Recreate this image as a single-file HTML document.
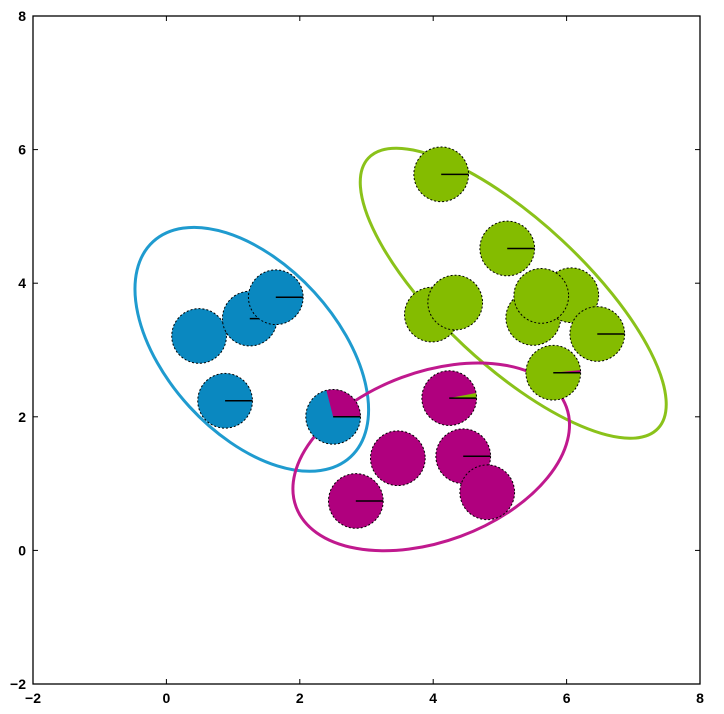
<!DOCTYPE html>
<html><head><meta charset="utf-8"><style>
html,body{margin:0;padding:0;background:#fff;}
svg text{font-family:"Liberation Sans",sans-serif;font-weight:bold;font-size:14px;fill:#000;}
</style></head><body>
<svg id="chart" width="724" height="709" viewBox="0 0 724 709" xmlns="http://www.w3.org/2000/svg">
<g id="ellipses"></g>
<g id="pies"></g>
<g id="axes"></g>
</svg>
<script>
// data
const clusterNames = ["blue", "green", "magenta"];
const clusterColors = ["#0a88c0", "#84bc00", "#b0007e"];
const ellipseColors = ["#1f9bcf", "#8ac21a", "#c0198e"];
const ellipseCx = [1.28, 5.2, 3.97];
const ellipseCy = [3.01, 3.85, 1.40];
const ellipseA = [2.19, 2.97, 2.16];
const ellipseB = [1.27, 1.08, 1.27];
const ellipseAngle = [47.5, 43, -20.3];
const pointX = [0.49, 1.25, 1.64, 0.88, 2.50, 4.12, 5.11, 3.98, 4.33, 5.50, 6.07, 5.62, 6.46, 5.80, 4.24, 4.45, 4.81, 3.47, 2.84];
const pointY = [3.21, 3.47, 3.79, 2.24, 2.00, 5.63, 4.52, 3.53, 3.71, 3.48, 3.82, 3.81, 3.24, 2.66, 2.28, 1.41, 0.87, 1.38, 0.74];
const pointMain = [0,0,0,0,0, 1,1,1,1,1,1,1,1,1, 2,2,2,2,2];
const pointOther = [2,2,2,2,2, 2,2,2,2,2,2,2,2,2, 1,1,1,1,1];
const pointOtherFrac = [0,0,0,0,0.29, 0,0,0,0,0,0,0,0,0.015, 0.03,0,0,0,0];
const pointLine = [0,1,1,1,1, 1,1,0,0,0,0,0,1,1, 1,1,0,0,1];
const xTicks = [-2,0,2,4,6,8];
const yTicks = [-2,0,2,4,6,8];
const markerR = 0.41;

const L=33,R=700,T=16,B=684,xmin=-2,xmax=8,ymin=-2,ymax=8;
const sx=v=>L+(v-xmin)/(xmax-xmin)*(R-L);
const sy=v=>B-(v-ymin)/(ymax-ymin)*(B-T);
const kx=(R-L)/(xmax-xmin);
const NS="http://www.w3.org/2000/svg";
function mk(tag,parent,attrs){const e=document.createElementNS(NS,tag);for(const k in attrs)e.setAttribute(k,attrs[k]);parent.appendChild(e);return e;}

const eg=document.getElementById('ellipses');
for(let i=0;i<ellipseCx.length;i++){
  const e=mk('ellipse',eg,{cx:sx(ellipseCx[i]),cy:sy(ellipseCy[i]),rx:ellipseA[i]*kx,ry:ellipseB[i]*kx,fill:'none',stroke:ellipseColors[i],'stroke-width':3,transform:`rotate(${ellipseAngle[i]} ${sx(ellipseCx[i])} ${sy(ellipseCy[i])})`});
  
  
}
const pg=document.getElementById('pies');
for(let i=0;i<pointX.length;i++){
  const cx=sx(pointX[i]),cy=sy(pointY[i]),r=markerR*kx;
  const g=mk('g',pg,{});
  
  
  mk('circle',g,{cx,cy,r,fill:clusterColors[pointMain[i]]});
  const f=pointOtherFrac[i];
  if(f>0){
    const a=f*2*Math.PI;
    const x2=cx+r*Math.cos(a),y2=cy-r*Math.sin(a);
    mk('path',g,{d:`M${cx},${cy} L${cx+r},${cy} A${r},${r} 0 ${f>0.5?1:0} 0 ${x2},${y2} Z`,fill:clusterColors[pointOther[i]]});
  }
  if(pointLine[i]) mk('line',g,{x1:cx,y1:cy,x2:cx+r,y2:cy,stroke:'#000','stroke-width':1.5});
  mk('circle',g,{cx,cy,r,fill:'none',stroke:'#000','stroke-width':1,'stroke-dasharray':'2,2'});
}
const ag=document.getElementById('axes');
const fr=mk('rect',ag,{x:L,y:T,width:R-L,height:B-T,fill:'none',stroke:'#000','stroke-width':1.3});


xTicks.forEach(v=>{
  const x=sx(v);
  mk('line',ag,{x1:x,y1:B,x2:x,y2:B-5,stroke:'#000'});
  mk('line',ag,{x1:x,y1:T,x2:x,y2:T+5,stroke:'#000'});
  const t=mk('text',ag,{x:x,y:B+19,'text-anchor':'middle'});
  t.textContent=(v<0?'\u2212':'')+Math.abs(v);
  
  
});
yTicks.forEach(v=>{
  const y=sy(v);
  mk('line',ag,{x1:L,y1:y,x2:L+5,y2:y,stroke:'#000'});
  mk('line',ag,{x1:R,y1:y,x2:R-5,y2:y,stroke:'#000'});
  const t=mk('text',ag,{x:L-7,y:y+5,'text-anchor':'end'});
  t.textContent=(v<0?'\u2212':'')+Math.abs(v);
  
  
});
</script>
</body></html>
